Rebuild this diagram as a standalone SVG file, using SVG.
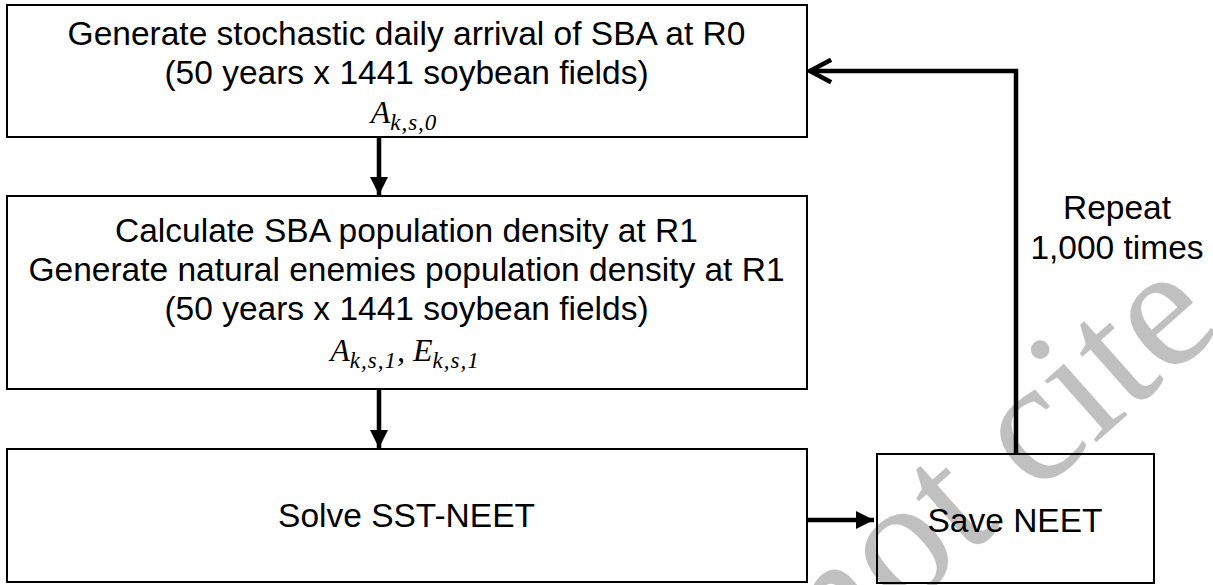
<svg xmlns="http://www.w3.org/2000/svg" width="1213" height="585" viewBox="0 0 1213 585">
  <style>
    .box { fill: none; stroke: #000; stroke-width: 2; }
    .lbl { font-family: "Liberation Sans", Arial, sans-serif; font-size: 33.5px; fill: #000; text-anchor: middle; }
    .math { font-family: "Liberation Serif", "Times New Roman", serif; font-style: italic; font-size: 32px; fill: #000; }
    .sub { font-size: 23px; letter-spacing: 1px; }
    .wire { fill: none; stroke: #000; stroke-width: 4.5; }
    .mark { font-family: "Liberation Serif", "Times New Roman", serif; font-size: 175px; fill: #c0c0c0; }
  </style>
  <defs>
    <marker id="head" markerWidth="4" markerHeight="4" refX="4" refY="2" orient="auto" markerUnits="strokeWidth">
      <path d="M0,0 L4,2 L0,4 Z" fill="#000"/>
    </marker>
    <marker id="chev" markerWidth="6" markerHeight="6" refX="5.2" refY="3" orient="auto" markerUnits="strokeWidth">
      <path d="M0.5,0.5 L5.2,3 L0.5,5.5" fill="none" stroke="#000" stroke-width="1"/>
    </marker>
  </defs>

  <rect width="1213" height="585" fill="#fff"/>

  <!-- faint background stamp -->
  <g id="watermark">
    <text class="mark" transform="translate(642,844) rotate(-41.5)">Do not cite</text>
  </g>

  <g id="connectors">
    <line class="wire" x1="379" y1="137" x2="379" y2="195" marker-end="url(#head)"/>
    <line class="wire" x1="379" y1="389" x2="379" y2="448" marker-end="url(#head)"/>
    <line class="wire" x1="807" y1="520" x2="874" y2="520" marker-end="url(#head)"/>
    <polyline class="wire" points="1016,454 1016,71 810,71" marker-end="url(#chev)"/>
    <text class="lbl" x="1117" y="219">Repeat</text>
    <text class="lbl" x="1117" y="259">1,000 times</text>
  </g>

  <g id="generate-arrival">
    <rect class="box" x="7" y="5" width="800" height="132"/>
    <text class="lbl" x="406.5" y="45">Generate stochastic daily arrival of SBA at R0</text>
    <text class="lbl" x="406.5" y="84">(50 years x 1441 soybean fields)</text>
    <text class="math" x="404" y="123" text-anchor="middle">A<tspan class="sub" dy="7">k,s,0</tspan></text>
  </g>

  <g id="population-density">
    <rect class="box" x="7" y="196" width="800" height="193"/>
    <text class="lbl" x="406.5" y="242">Calculate SBA population density at R1</text>
    <text class="lbl" x="406.5" y="281">Generate natural enemies population density at R1</text>
    <text class="lbl" x="406.5" y="320">(50 years x 1441 soybean fields)</text>
    <text class="math" x="405" y="361" text-anchor="middle">A<tspan class="sub" dy="7">k,s,1</tspan><tspan dy="-7">, E</tspan><tspan class="sub" dy="7">k,s,1</tspan></text>
  </g>

  <g id="solve">
    <rect class="box" x="7" y="449" width="800" height="133"/>
    <text class="lbl" x="406.5" y="527">Solve SST-NEET</text>
  </g>

  <g id="save">
    <rect class="box" x="877" y="454" width="277" height="129"/>
    <text class="lbl" x="1015" y="532">Save NEET</text>
  </g>
</svg>
